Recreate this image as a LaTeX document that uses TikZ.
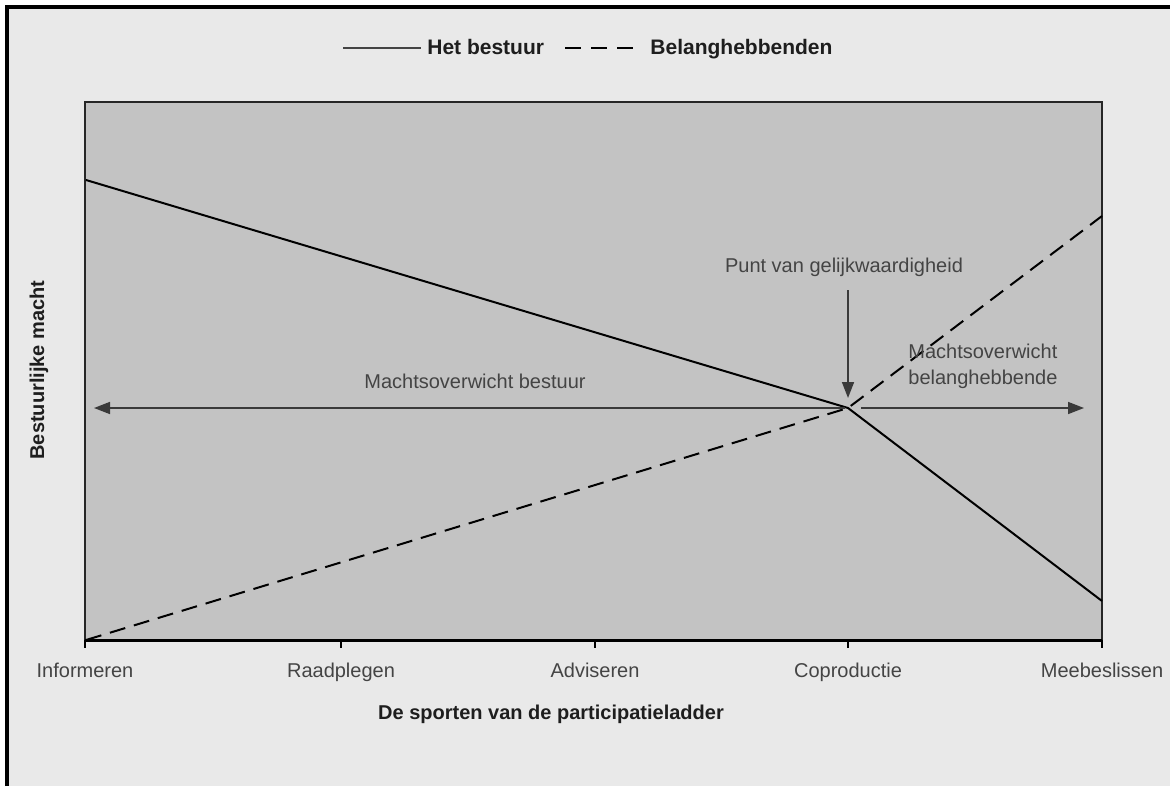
\documentclass[tikz,border=0pt]{standalone}
\usepackage{fontspec}
\setmainfont{Liberation Sans}
\usetikzlibrary{arrows.meta}
\definecolor{bgc}{HTML}{E9E9E9}
\definecolor{plotc}{HTML}{C3C3C3}
\definecolor{txtg}{HTML}{444444}
\definecolor{txtd}{HTML}{1E1E1E}
\definecolor{arrc}{HTML}{3A3A3A}
\tikzset{
  lbl/.style={font=\fontsize{10}{12}\selectfont, text=txtd, inner sep=0pt},
  boldlbl/.style={font=\fontsize{10.5}{12}\selectfont\bfseries, text=txtd, inner sep=0pt},
  glbl/.style={font=\fontsize{10}{13}\selectfont, text=txtg, inner sep=0pt},
  solidln/.style={draw=black, line width=1pt},
  dashln/.style={draw=black, line width=1pt, dash pattern=on 8pt off 4.5pt},
  arr/.style={draw=arrc, line width=0.8pt, -{Triangle[length=8pt,width=6pt]}},
}
\begin{document}
\begin{tikzpicture}[x=0.5pt,y=-0.5pt]
\useasboundingbox (0,0) rectangle (1170,786);
\fill[white] (0,0) rectangle (1170,786);
\fill[bgc] (7,7) rectangle (1170,786);
\draw[line width=2pt, black] (7,786) -- (7,7) -- (1170,7);

% plot area
\fill[plotc] (85,102) rectangle (1102,640);
\draw[line width=1pt, black!85] (85,640) -- (85,102) -- (1102,102) -- (1102,640);
\draw[line width=1.5pt, black] (85,640) -- (1102,640);

% coordinates
\coordinate (s0) at (86,180);
\coordinate (eq) at (848,408);
\coordinate (s1) at (1102,601);
\coordinate (d0) at (86,640);
\coordinate (d1) at (1102,216);

% lines
\draw[solidln] (s0) -- (eq) -- (s1);
\draw[dashln] (d0) -- (eq) -- (d1);

% ticks and labels
\foreach \x/\n/\t in {85/t1/Informeren, 341/t2/Raadplegen, 595/t3/Adviseren, 848/t4/Coproductie, 1102/t5/Meebeslissen}{
  \coordinate (\n a) at (\x,640);
  \coordinate (\n b) at (\x,648);
  \draw[line width=0.8pt] (\n a) -- (\n b);
  \node[lbl, text=txtg, anchor=base] (\n) at (\x,677) {\t};
}

% axis titles
\node[boldlbl, font=\fontsize{10}{12}\selectfont\bfseries, anchor=base] (xt) at (551,719) {De sporten van de participatieladder};
\node[boldlbl, font=\fontsize{10}{12}\selectfont\bfseries, rotate=90] (yt) at (39,370) {Bestuurlijke macht};

% legend
\coordinate (la) at (343,48);
\coordinate (lb) at (421,48);
\draw[draw=txtg, line width=1pt] (la) -- (lb);
\node[boldlbl, anchor=base west] (lh) at (427,55) {Het bestuur};
\coordinate (lc) at (565,48);
\coordinate (ld) at (639,48);
\draw[draw=black, line width=1.2pt, dash pattern=on 8pt off 5pt] (lc) -- (ld);
\node[boldlbl, anchor=base west] (lbh) at (650,55) {Belanghebbenden};

% arrows
\coordinate (hl0) at (845,408);
\coordinate (hl1) at (94,408);
\coordinate (hr0) at (861,408);
\coordinate (hr1) at (1084,408);
\draw[arr] (hl0) -- (hl1);
\draw[arr] (hr0) -- (hr1);

\node[glbl, anchor=base] (punt) at (844,272) {Punt van gelijkwaardigheid};
\coordinate (pv0) at (848,290);
\coordinate (pv1) at (848,398);
\draw[arr] (pv0) -- (pv1);

\node[glbl, anchor=base] (mb) at (475,388) {Machtsoverwicht bestuur};
\node[glbl, anchor=base west, align=left] (mbh) at (908,384) {Machtsoverwicht\\belanghebbende};
\end{tikzpicture}
\end{document}
